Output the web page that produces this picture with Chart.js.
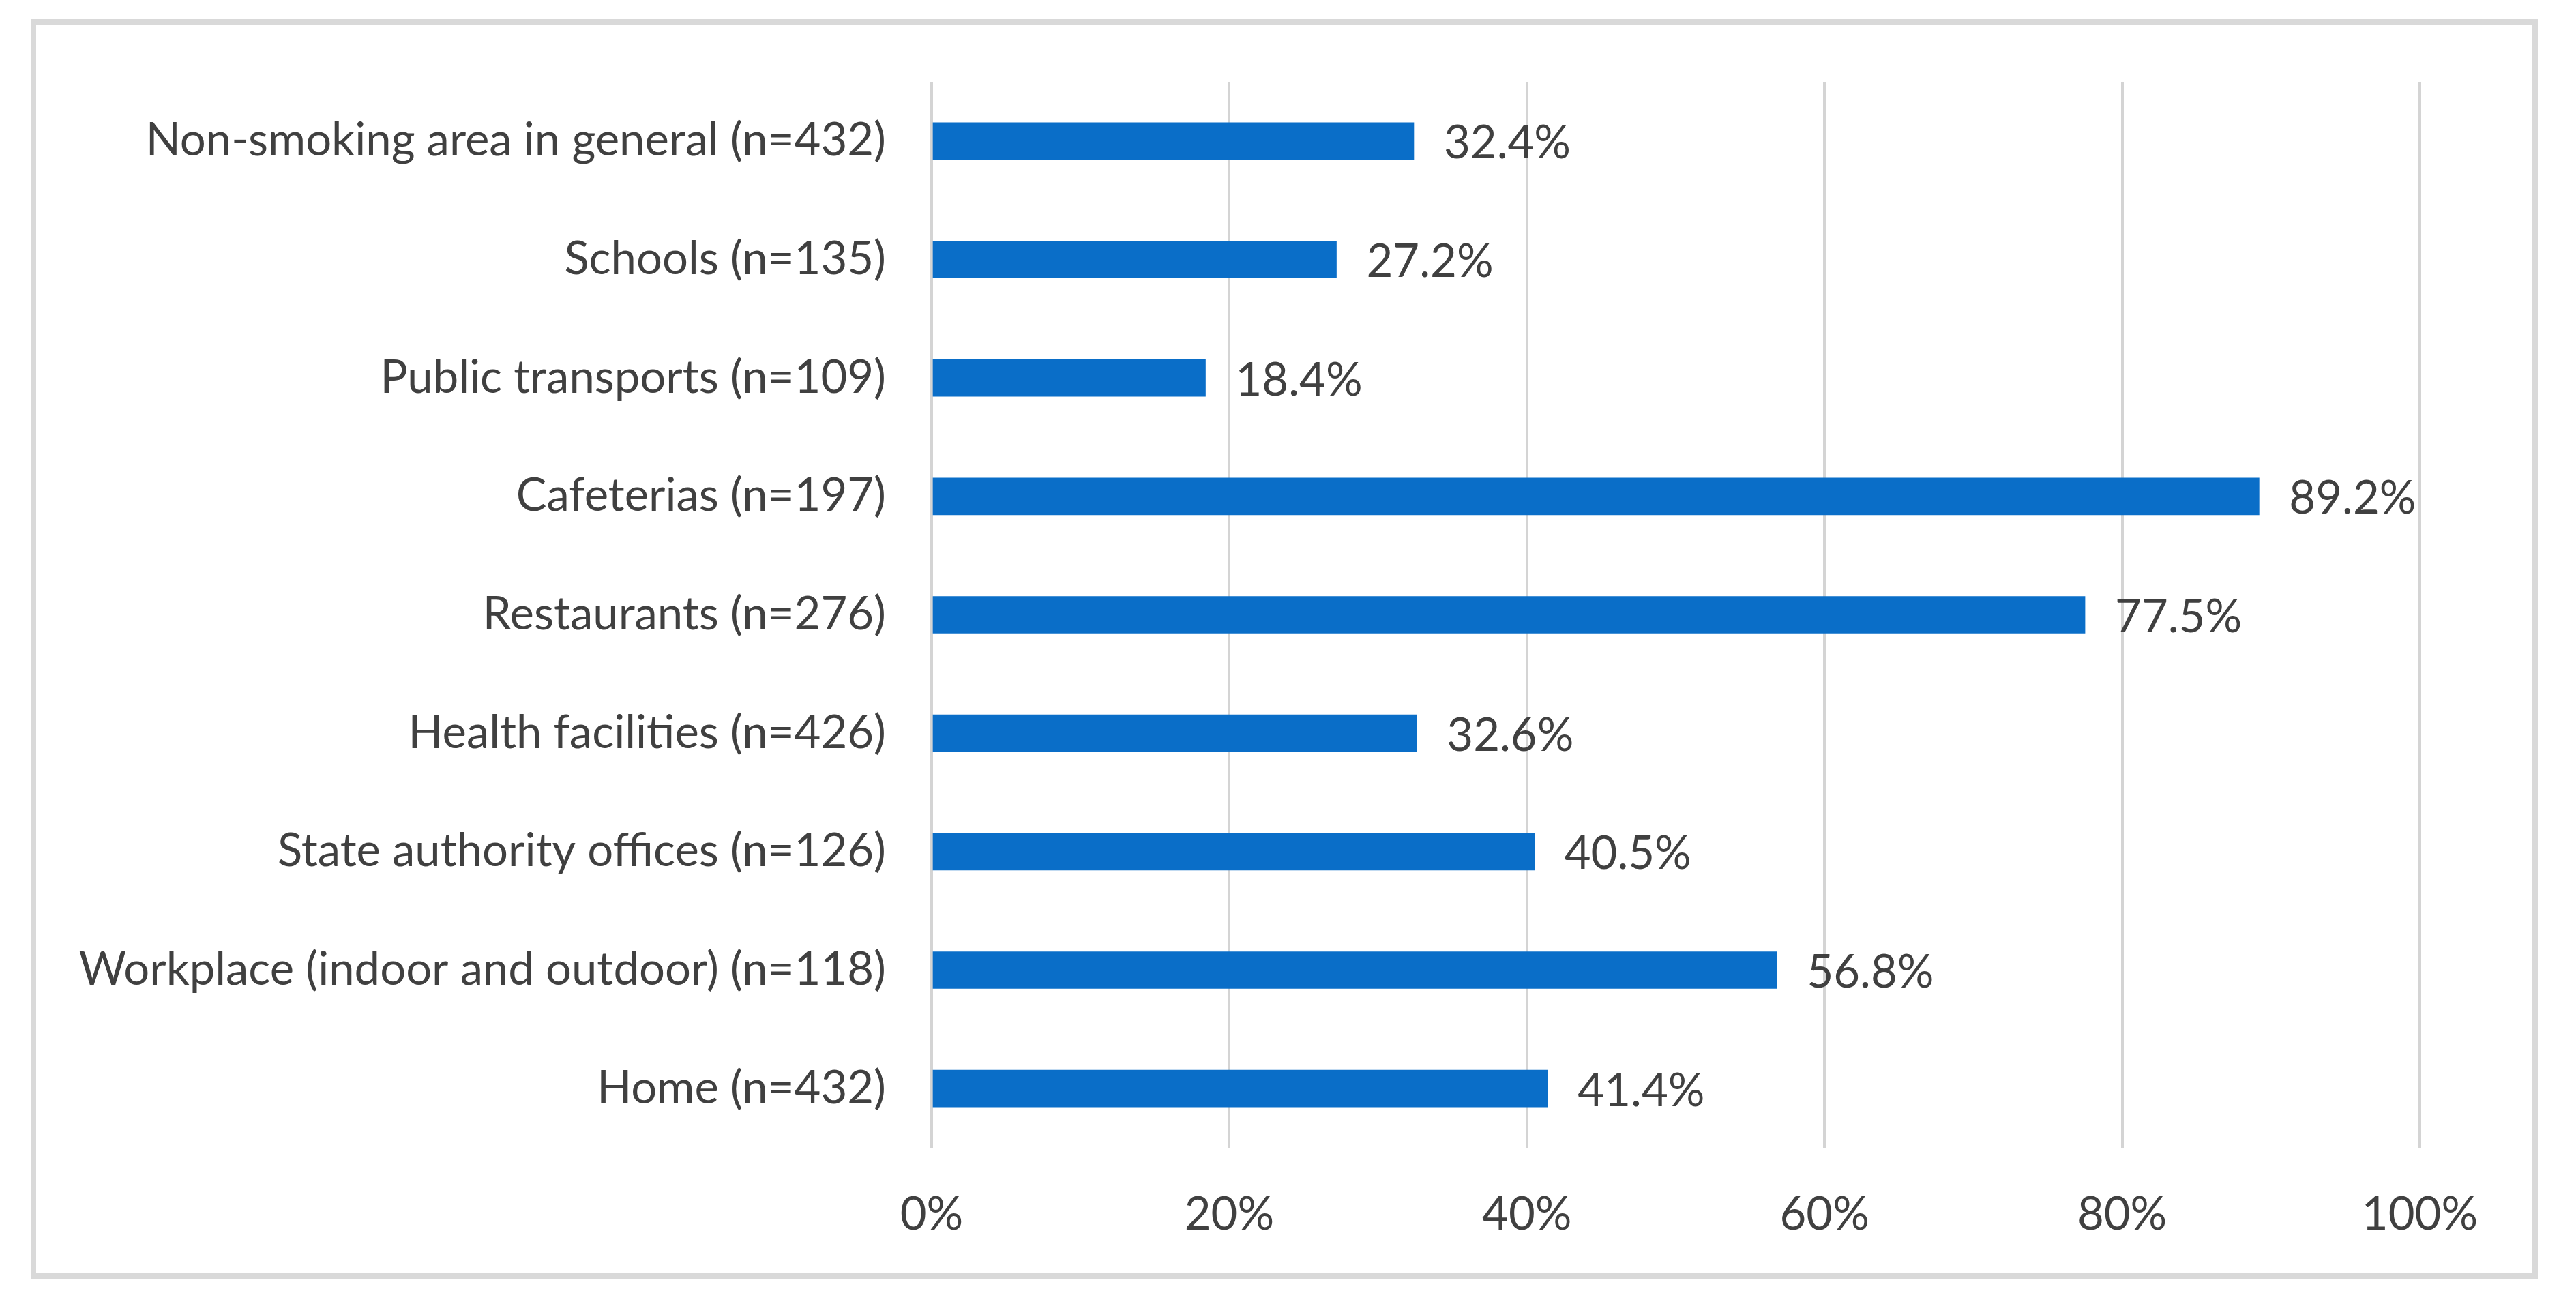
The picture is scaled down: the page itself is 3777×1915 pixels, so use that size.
<!DOCTYPE html>
<html>
<head>
<meta charset="utf-8">
<script src="https://cdn.jsdelivr.net/npm/chart.js@4"></script>
<style>
  html, body { margin:0; padding:0; background:#fff; }
  #wrap { position:absolute; left:0; top:0; width:3777px; height:1915px; }
  #frame { position:absolute; left:45px; top:28px; width:3660px; height:1831px; border:8px solid #d9d9d9; }
  canvas { position:absolute; left:0; top:0; }
</style>
</head>
<body>
<div id="frame"></div>
<div id="wrap"><canvas id="c"></canvas></div>
<script>
const categories = [
  'Non-smoking area in general (n=432)',
  'Schools (n=135)',
  'Public transports (n=109)',
  'Cafeterias (n=197)',
  'Restaurants (n=276)',
  'Health facilities (n=426)',
  'State authority offices (n=126)',
  'Workplace (indoor and outdoor) (n=118)',
  'Home (n=432)'
];
const values = [32.4, 27.2, 18.4, 89.2, 77.5, 32.6, 40.5, 56.8, 41.4];
const xTicks = [0, 20, 40, 60, 80, 100];

const FONT = { family:'Lato, "Open Sans", sans-serif', size:67 };
const TXT = '#404040';

// value labels right of each bar
const barLabels = {
  id:'barLabels',
  afterDatasetsDraw(chart){
    const {ctx} = chart;
    const meta = chart.getDatasetMeta(0);
    ctx.save();
    ctx.font = `${FONT.size}px ${FONT.family}`;
    ctx.fillStyle = TXT;
    ctx.textAlign = 'left';
    ctx.textBaseline = 'middle';
    meta.data.forEach((bar, i) => {
      ctx.fillText(values[i].toFixed(1) + '%', bar.x + 44, bar.y + 4);
    });
    ctx.restore();
  }
};

new Chart(document.getElementById('c'), {
  type:'bar',
  data:{ labels:categories, datasets:[{ data:values, backgroundColor:'#0A6EC8', barThickness:54 }] },
  options:{
    indexAxis:'y',
    responsive:true, maintainAspectRatio:false, animation:false,
    layout:{ padding:{ top:120, right:229, bottom:80, left:0 } },
    plugins:{ legend:{display:false}, tooltip:{enabled:false} },
    scales:{
      x:{
        min:0, max:100,
        afterBuildTicks: s => { s.ticks = xTicks.map(v => ({value:v})); },
        afterFit: s => { s.height = 152; },
        grid:{ color:'#d4d4d4', lineWidth:4, drawTicks:false },
        border:{ display:false },
        ticks:{ color:TXT, font:FONT, padding:58, callback: v => v + '%' }
      },
      y:{
        afterFit: s => { s.width = 1366; },
        grid:{ display:false, drawTicks:false },
        border:{ display:false },
        ticks:{ color:TXT, font:FONT, padding:67 }
      }
    }
  },
  plugins:[barLabels]
});
</script>
</body>
</html>
